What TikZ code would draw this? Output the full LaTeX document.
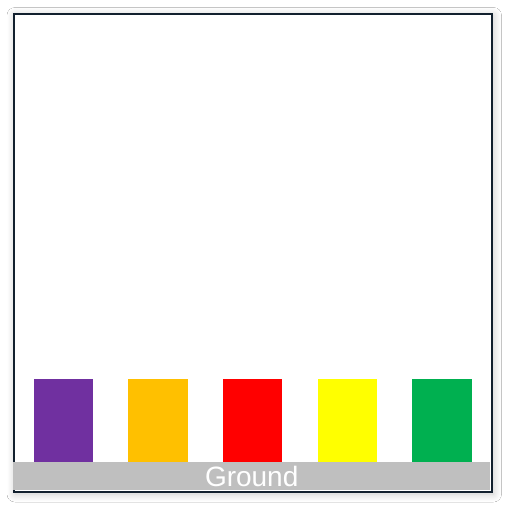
\documentclass[tikz,border=0pt]{standalone}
\usepackage{fontspec}
\setmainfont{Liberation Sans}
\usetikzlibrary{shadows.blur}
\definecolor{framec}{RGB}{18,32,46}
\definecolor{groundc}{RGB}{191,191,191}
\definecolor{c1}{RGB}{112,48,160}
\definecolor{c2}{RGB}{255,192,0}
\definecolor{c3}{RGB}{255,0,0}
\definecolor{c4}{RGB}{255,255,0}
\definecolor{c5}{RGB}{0,176,80}
\tikzset{
  blockbox/.style={draw=none, minimum width=59.5pt, minimum height=83pt, inner sep=0pt, anchor=south west},
}
\begin{document}
\begin{tikzpicture}[x=1pt,y=-1pt]
\useasboundingbox (0,0) rectangle (505,512);
\fill[white] (0,0) rectangle (505,512);
\node[draw=framec, line width=2pt, fill=white, minimum width=478.5pt, minimum height=478.5pt, inner sep=0pt, anchor=north west,
  blur shadow={shadow xshift=1.5pt, shadow yshift=-2pt, shadow blur radius=8pt, shadow blur steps=16, shadow opacity=22}] (frame) at (12.5,12.5) {};
\node[blockbox, fill=c1] (b1) at (33.3,462) {};
\node[blockbox, fill=c2] (b2) at (128,462) {};
\node[blockbox, fill=c3] (b3) at (222.5,462) {};
\node[blockbox, fill=c4] (b4) at (317.3,462) {};
\node[blockbox, fill=c5] (b5) at (412,462) {};
\node[fill=groundc, minimum width=477pt, minimum height=28pt, inner sep=0pt, anchor=north west, text=white,
  font=\fontsize{28pt}{28pt}\selectfont] (ground) at (13,462) {Ground};
\end{tikzpicture}
\end{document}
